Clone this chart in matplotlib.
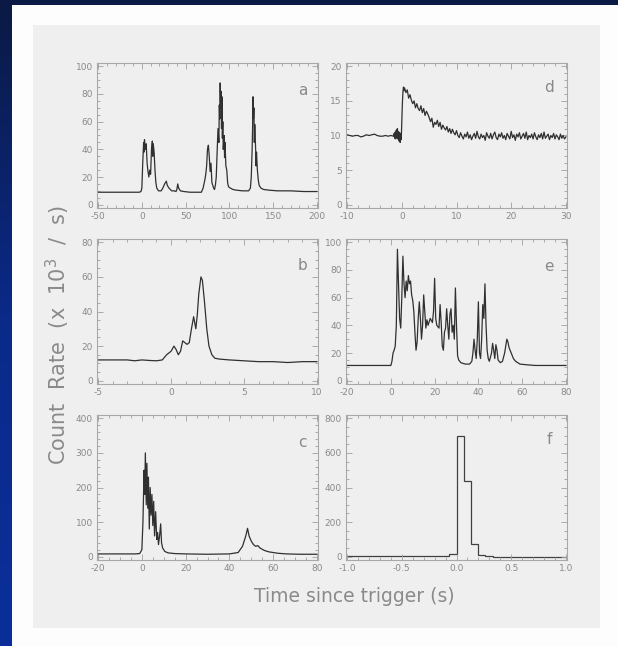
import numpy as np
import matplotlib
matplotlib.use("Agg")
import matplotlib.pyplot as plt
from matplotlib.patches import Rectangle
from matplotlib.ticker import AutoMinorLocator
from matplotlib.colors import LinearSegmentedColormap

plt.rcParams['axes.unicode_minus'] = False
plt.rcParams['font.family'] = ['DejaVu Sans']

# ---------------- data ----------------
# panel a
a_t = [-50, -40, -30, -20, -10, -3, -1, 0, 1, 2, 2.5, 3, 4, 5, 6, 7, 8, 9, 10, 11, 12, 12.5, 13, 14, 15, 16, 17,
       19, 22, 24, 26, 28, 29, 31, 34, 37, 39, 40, 41, 42, 44, 48, 55, 62, 68, 70, 72, 73, 74, 75, 76, 77, 78,
       79, 80, 81, 82, 83, 84, 85, 86, 87, 88, 88.5, 89, 89.5, 90, 90.5, 91, 91.5, 92, 92.5, 93, 94, 94.5, 95,
       96, 97, 98, 99, 101, 104, 108, 115, 122, 124, 125, 126, 126.5, 127, 127.5, 128, 128.5, 129, 130, 130.5,
       131, 132, 133, 134, 136, 139, 145, 155, 170, 185, 200]
a_rate = [9, 9, 9, 9, 9, 9, 9.5, 12, 30, 45, 38, 47, 40, 44, 30, 24, 20, 25, 22, 40, 46, 35, 44, 38, 25, 16, 12,
          10, 10, 12, 15, 17, 14, 12, 10, 10, 9.5, 11, 15, 12, 10, 9.5, 9, 9, 9, 12, 18, 22, 28, 40, 43, 35, 24,
          30, 16, 14, 12, 11, 14, 20, 38, 55, 45, 72, 62, 88, 70, 82, 55, 78, 48, 60, 40, 50, 34, 45,
          28, 25, 16, 13, 12, 11, 10.5, 10, 10, 12, 20, 40, 55, 78, 62, 70, 45, 58, 40, 28,
          38, 25, 18, 14, 12, 11, 10.5, 10, 10, 9.5, 9.5]

# panel b
b_t = [-5, -4, -3, -2.5, -2, -1.5, -1, -0.6, -0.3, 0, 0.2, 0.35, 0.5, 0.65, 0.8, 0.95, 1.1, 1.25, 1.4, 1.55,
       1.7, 1.8, 1.9, 2.05, 2.15, 2.3, 2.45, 2.6, 2.8, 3.0, 3.3, 4, 5, 6, 7, 8, 9, 10]
b_rate = [12, 12, 12, 11.5, 12, 11.7, 11.5, 12, 15, 17, 20, 18, 15, 17, 23, 22, 21, 22, 30, 37,
          30, 38, 50, 60, 58, 45, 30, 20, 15, 13, 12.5, 12, 11.5, 11, 11, 10.5, 11, 11]

# panel c
c_t = [-20, -10, -3, -1, 0, 0.5, 1, 1.3, 1.6, 2, 2.3, 2.7, 3, 3.4, 3.8, 4.2, 4.6, 5, 5.4, 5.8, 6.3, 6.8, 7.2,
       7.6, 8.1, 8.6, 9, 9.5, 10.5, 12, 15, 20, 30, 40, 44, 46, 47.5, 48.3, 49, 50, 51, 52, 53, 54, 56, 58,
       62, 66, 72, 80]
c_rate = [8, 8, 8, 9, 20, 100, 250, 180, 300, 150, 270, 140, 230, 80, 200, 120, 180, 90, 160, 60, 130, 50, 70,
          35, 60, 95, 40, 25, 15, 11, 9, 8, 7, 8, 12, 30, 60, 82, 60, 45, 35, 30, 32, 25, 18, 14,
          10, 8, 7, 7]

# panel d (quiet pre-trigger part, then noisy binned part starting at 0.5 s, 0.25 s bins)
d_pre_t = [-10, -9.5, -9, -8.5, -8, -7.5, -7, -6.5, -6, -5.5, -5, -4.5, -4, -3.5, -3, -2.5, -2,
           -1.5, -1.4, -1.3, -1.2, -1.1, -1.0, -0.9, -0.8, -0.7, -0.6, -0.5, -0.4, -0.3, -0.2, -0.1,
           0.0, 0.1, 0.2, 0.3, 0.4]
d_pre_rate = [10.1, 10.0, 9.9, 10.0, 10.0, 9.8, 9.9, 10.1, 10.0, 10.1, 10.2, 10.0, 9.9, 9.9, 10.0, 9.9, 10.0,
              9.9, 10.3, 9.6, 10.5, 9.5, 10.8, 9.8, 11.0, 9.5, 10.6, 9.2, 10.4, 9.0, 10.2, 9.4,
              12.0, 14.5, 16.2, 17.0, 16.5]
d_bin_start = 0.5
d_bin_width = 0.25
d_rate = [16.9, 16.2, 16.6, 15.4, 15.9, 15.1, 14.6, 15.0, 14.0, 14.6,
          13.9, 13.6, 14.3, 13.3, 13.9, 12.9, 13.5, 13.1, 12.6, 12.0,
          12.5, 11.2, 11.9, 11.6, 12.2, 11.3, 11.9, 10.9, 11.5, 11.1,
          10.8, 11.3, 10.5, 11.0, 10.3, 10.9, 10.4, 10.1, 10.7,
          10.0, 9.7, 10.4, 9.9, 9.5, 10.2, 9.8, 10.5, 9.6, 10.1,
          9.4, 9.9, 10.3, 9.6, 10.6, 9.8, 9.5, 10.2, 9.7, 10.0,
          9.3, 10.4, 9.9, 9.6, 10.3, 9.5, 10.1, 10.5, 9.7, 9.4,
          10.2, 9.8, 10.4, 9.6, 10.0, 9.4, 10.3, 9.9, 9.5, 10.6,
          9.7, 10.1, 9.3, 10.2, 9.8, 10.4, 9.5, 9.9, 10.3, 9.6,
          10.5, 9.4, 10.0, 9.7, 10.2, 9.5, 10.4, 9.8, 9.4, 10.1,
          9.7, 10.3, 9.5, 10.5, 9.6, 9.9, 10.2, 9.4, 10.0, 9.7,
          10.3, 9.5, 10.1, 9.8, 9.4, 10.2, 9.6, 10.0, 9.5, 9.8]

# panel e
e_t = [-20, -10, -2, 0, 0.5, 1, 1.5, 2, 2.5, 3, 3.5, 4, 4.5, 5, 5.5, 6, 6.5, 7, 7.5, 8, 8.5, 9, 9.5, 10,
       10.5, 11, 11.5, 12, 12.5, 13, 13.5, 14, 14.5, 15, 15.5, 16, 16.5, 17, 18, 19, 19.5, 20, 20.5, 21, 22,
       22.5, 23, 23.5, 24, 24.5, 25, 25.5, 26, 26.5, 27, 27.5, 28, 28.5, 29, 29.5, 30, 30.5, 31, 32, 34, 36,
       37, 37.5, 38, 38.5, 39, 39.5, 40, 40.5, 41, 41.5, 42, 42.5, 43, 43.5, 44, 44.5, 45, 46, 46.5, 47,
       47.5, 48, 48.5, 49, 50, 51, 52, 53, 53.5, 54, 55, 56, 57, 59, 62, 66, 72, 80]
e_rate = [11, 11, 11, 11, 14, 20, 22, 25, 40, 95, 70, 45, 38, 60, 90, 70, 60, 72, 65, 76, 70, 72, 62, 58,
          50, 35, 22, 28, 45, 57, 45, 30, 40, 62, 50, 38, 44, 40, 45, 42, 50, 74, 45, 40, 38,
          55, 42, 25, 22, 35, 38, 52, 40, 30, 48, 52, 35, 40, 30, 67, 40, 18, 15, 13, 12, 12,
          14, 20, 30, 22, 16, 30, 57, 20, 16, 30, 55, 45, 70, 40, 22, 16, 14, 20, 27, 22,
          16, 26, 22, 15, 13, 14, 20, 30, 28, 24, 20, 16, 14, 12, 11.5, 11, 11, 11]

# panel f (histogram)
f_edges = [-1.0, -0.064, 0.0, 0.066, 0.134, 0.196, 0.26, 0.33, 1.0]
f_counts = [2, 18, 700, 440, 72, 10, 3, 1]

panel_letters = ['a', 'd', 'b', 'e', 'c', 'f']
x_ranges = [(-50, 200), (-10, 30), (-5, 10), (-20, 80), (-20, 80), (-1.0, 1.0)]
y_ranges = [(0, 100), (0, 20), (0, 80), (0, 100), (0, 400), (0, 800)]
x_ticks = [[-50, 0, 50, 100, 150, 200], [-10, 0, 10, 20, 30], [-5, 0, 5, 10],
           [-20, 0, 20, 40, 60, 80], [-20, 0, 20, 40, 60, 80], [-1.0, -0.5, 0.0, 0.5, 1.0]]
y_ticks = [[0, 20, 40, 60, 80, 100], [0, 5, 10, 15, 20], [0, 20, 40, 60, 80],
           [0, 20, 40, 60, 80, 100], [0, 100, 200, 300, 400], [0, 200, 400, 600, 800]]
x_label = "Time since trigger (s)"
y_label = "Count  Rate  (x  10$^3$  /  s)"

# ---------------- figure ----------------
W, H = 618, 646
fig = plt.figure(figsize=(W / 100, H / 100), dpi=100, facecolor='#0a1a44')

def px_rect(x0, y0, x1, y1, color, z):
    fig.add_artist(Rectangle((x0 / W, 1 - y1 / H), (x1 - x0) / W, (y1 - y0) / H,
                             transform=fig.transFigure, facecolor=color, edgecolor='none', zorder=z))

# left blue strip (gradient)
gax = fig.add_axes([0, 0, 12 / W, 1])
grad = np.linspace(0, 1, 256).reshape(-1, 1)
cm = LinearSegmentedColormap.from_list('nv', ['#0a1a44', '#0a2a8a', '#0a2f9a'])
gax.imshow(grad, aspect='auto', cmap=cm, extent=[0, 1, 0, 1], origin='upper')
gax.axis('off')
px_rect(12, 5, 618, 646, '#fdfdfd', -2)
px_rect(33, 25, 600, 628, '#efefef', -1)

pos_px = [(97, 63), (346, 63), (97, 239), (346, 239), (97, 415), (346, 415)]
aw, ah = 221, 145
letter_pos = [(0.93, 0.81), (0.92, 0.83), (0.93, 0.82), (0.92, 0.81), (0.93, 0.81), (0.92, 0.83)]

axes = []
for i, (x0, y0) in enumerate(pos_px):
    ax = fig.add_axes([x0 / W, 1 - (y0 + ah) / H, aw / W, ah / H])
    ax.set_facecolor('#efefef')
    axes.append(ax)

line_kw = dict(color='#303030', lw=0.9)
axes[0].plot(a_t, a_rate, **line_kw)
axes[1].plot(d_pre_t, d_pre_rate, **line_kw)
d_t = d_bin_start + d_bin_width * np.arange(len(d_rate))
axes[1].plot(np.concatenate([[d_pre_t[-1]], d_t]), np.concatenate([[d_pre_rate[-1]], d_rate]), **line_kw)
axes[2].plot(b_t, b_rate, **line_kw)
axes[3].plot(e_t, e_rate, **line_kw)
axes[4].plot(c_t, c_rate, **line_kw)
axes[5].stairs(f_counts, f_edges, color='#404040', lw=0.9)

for i, ax in enumerate(axes):
    xr, yr = x_ranges[i], y_ranges[i]
    ax.set_xlim(xr[0] - 0.005 * (xr[1] - xr[0]), xr[1] + 0.005 * (xr[1] - xr[0]))
    ax.set_ylim(yr[0] - 0.024 * (yr[1] - yr[0]), yr[1] + 0.024 * (yr[1] - yr[0]))
    ax.set_xticks(x_ticks[i])
    ax.set_yticks(y_ticks[i])
    if i == 5:
        ax.set_xticklabels(['%.1f' % v for v in x_ticks[i]])
    ax.xaxis.set_minor_locator(AutoMinorLocator())
    ax.yaxis.set_minor_locator(AutoMinorLocator())
    ax.tick_params(which='both', direction='in', top=True, right=True, color='#a0a0a0',
                   width=0.6, labelsize=6.5, labelcolor='#8a8a8a', pad=3)
    ax.tick_params(which='major', length=4)
    ax.tick_params(which='minor', length=2)
    for s in ax.spines.values():
        s.set_color('#a8a8a8')
        s.set_linewidth(0.8)
    ax.text(letter_pos[i][0], letter_pos[i][1], panel_letters[i], transform=ax.transAxes,
            fontsize=11, color='#888888', ha='center', va='center')

fig.text(354 / W, 1 - 597 / H, x_label, fontsize=13.5, color='#8a8a8a', ha='center', va='center')
fig.text(58 / W, 1 - 335 / H, y_label, fontsize=15, color='#8a8a8a', ha='center', va='center',
         rotation=90)

fig.savefig('out.png', dpi=100, facecolor=fig.get_facecolor())
